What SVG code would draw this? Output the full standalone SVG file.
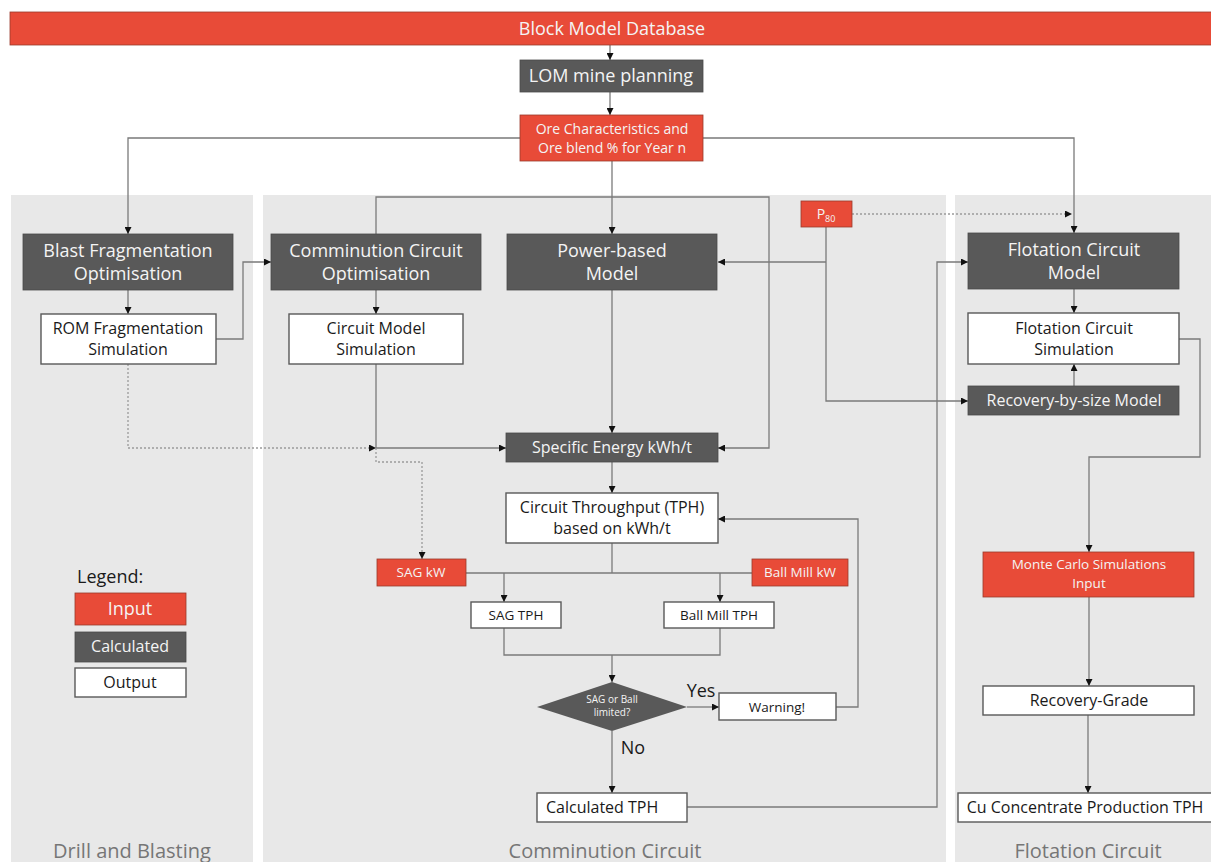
<svg xmlns="http://www.w3.org/2000/svg" width="1211" height="862" viewBox="0 0 1211 862">
<defs>
<style>
.red{fill:#E84B38;stroke:#9a3a2c;stroke-width:0.8}
.dark{fill:#595959;stroke:#4a4a4a;stroke-width:0.8}
.out{fill:#ffffff;stroke:#595959;stroke-width:1.4}
.panel{fill:#E8E8E8}
text{font-family:"Open Sans","Liberation Sans",sans-serif;text-anchor:middle}
.tw{fill:#f4f4f4}
.tb{fill:#1a1a1a}
.tg{fill:#767676;font-size:20px}
.f17{font-size:18px}
.f15{font-size:16px}
.f13{font-size:13.5px}
.ln{fill:none;stroke:#7a7a7a;stroke-width:1.3}
.dt{fill:none;stroke:#9a9a9a;stroke-width:1.3;stroke-dasharray:2 2}
</style>
<marker id="ah" viewBox="0 0 10 10" refX="10" refY="5" markerWidth="7" markerHeight="7" markerUnits="userSpaceOnUse" orient="auto">
<path d="M0,0 L10,5 L0,10 z" fill="#111"/>
</marker>
</defs>
<rect width="1211" height="862" fill="#ffffff"/>
<g id="panels">
<rect class="panel" x="11" y="195" width="242" height="667"/>
<rect class="panel" x="263" y="195" width="683" height="667"/>
<rect class="panel" x="955" y="195" width="256" height="667"/>
<text class="tg" x="132" y="858">Drill and Blasting</text>
<text class="tg" x="605" y="858">Comminution Circuit</text>
<text class="tg" x="1088" y="858">Flotation Circuit</text>
</g>
<g id="connectors">
<path class="ln" d="M610,45 V60" marker-end="url(#ah)"/>
<path class="ln" d="M610,92 V115" marker-end="url(#ah)"/>
<path class="ln" d="M520,138 H128 V234" marker-end="url(#ah)"/>
<path class="ln" d="M703,138 H1074 V233" marker-end="url(#ah)"/>
<path class="ln" d="M612,161 V234" marker-end="url(#ah)"/>
<path class="ln" d="M376,234 V197 H769 V448 H718" marker-end="url(#ah)"/>
<path class="ln" d="M128,290 V314" marker-end="url(#ah)"/>
<path class="ln" d="M216,339 H243 V262 H271" marker-end="url(#ah)"/>
<path class="ln" d="M376,290 V314" marker-end="url(#ah)"/>
<path class="ln" d="M376,364 V448 H506" marker-end="url(#ah)"/>
<path class="dt" d="M128,364 V448 H376" marker-end="url(#ah)"/>
<path class="dt" d="M376,448 V462 H422 V559" marker-end="url(#ah)"/>
<path class="dt" d="M852,214 H1072" marker-end="url(#ah)"/>
<path class="ln" d="M826,227 V401 H968" marker-end="url(#ah)"/>
<path class="ln" d="M826,262 H718" marker-end="url(#ah)"/>
<path class="ln" d="M612,290 V433" marker-end="url(#ah)"/>
<path class="ln" d="M612,462 V493" marker-end="url(#ah)"/>
<path class="ln" d="M612,543 V573"/>
<path class="ln" d="M466,573 H752"/>
<path class="ln" d="M504,573 V602" marker-end="url(#ah)"/>
<path class="ln" d="M720,573 V602" marker-end="url(#ah)"/>
<path class="ln" d="M504,628 V655 H720 V628"/>
<path class="ln" d="M612,655 V682" marker-end="url(#ah)"/>
<path class="ln" d="M687,707 H719" marker-end="url(#ah)"/>
<path class="ln" d="M836,707 H858 V519 H718" marker-end="url(#ah)"/>
<path class="ln" d="M612,731 V793" marker-end="url(#ah)"/>
<path class="ln" d="M687,807 H937 V262 H968" marker-end="url(#ah)"/>
<path class="ln" d="M1074,289 V313" marker-end="url(#ah)"/>
<path class="ln" d="M1074,386 V364" marker-end="url(#ah)"/>
<path class="ln" d="M1179,339 H1200 V457 H1089 V552" marker-end="url(#ah)"/>
<path class="ln" d="M1089,597 V686" marker-end="url(#ah)"/>
<path class="ln" d="M1088,715 V793" marker-end="url(#ah)"/>
</g>
<g id="block-model-database">
<rect class="red" x="10" y="12" width="1210" height="33"/>
<text class="tw" x="612" y="35" style="font-size:18px">Block Model Database</text>
</g>
<g id="lom-mine-planning">
<rect class="dark" x="520" y="60" width="183" height="32"/>
<text class="tw f17" x="611" y="82">LOM mine planning</text>
</g>
<g id="ore-characteristics">
<rect class="red" x="520" y="115" width="183" height="46"/>
<text class="tw" x="612" y="134" style="font-size:14px">Ore Characteristics and</text>
<text class="tw" x="612" y="153" style="font-size:14px">Ore blend % for Year n</text>
</g>
<g id="blast-fragmentation">
<rect class="dark" x="23" y="234" width="210" height="56"/>
<text class="tw f17" x="128" y="257">Blast Fragmentation</text>
<text class="tw f17" x="128" y="280">Optimisation</text>
</g>
<g id="rom-fragmentation">
<rect class="out" x="41" y="314" width="175" height="50"/>
<text class="tb f15" x="128" y="334">ROM Fragmentation</text>
<text class="tb f15" x="128" y="355">Simulation</text>
</g>
<g id="comminution-optimisation">
<rect class="dark" x="271" y="234" width="210" height="56"/>
<text class="tw f17" x="376" y="257">Comminution Circuit</text>
<text class="tw f17" x="376" y="280">Optimisation</text>
</g>
<g id="circuit-model-simulation">
<rect class="out" x="289" y="314" width="174" height="50"/>
<text class="tb f15" x="376" y="334">Circuit Model</text>
<text class="tb f15" x="376" y="355">Simulation</text>
</g>
<g id="power-based-model">
<rect class="dark" x="507" y="234" width="210" height="56"/>
<text class="tw f17" x="612" y="257">Power-based</text>
<text class="tw f17" x="612" y="280">Model</text>
</g>
<g id="p80">
<rect class="red" x="801" y="201" width="51" height="26"/>
<text class="tw" x="826" y="219" style="font-size:14px">P<tspan style="font-size:9px" dy="3">80</tspan></text>
</g>
<g id="specific-energy">
<rect class="dark" x="506" y="433" width="212" height="29"/>
<text class="tw f15" x="612" y="453">Specific Energy kWh/t</text>
</g>
<g id="circuit-throughput">
<rect class="out" x="506" y="493" width="212" height="50"/>
<text class="tb f15" x="612" y="513">Circuit Throughput  (TPH)</text>
<text class="tb f15" x="612" y="534">based on kWh/t</text>
</g>
<g id="sag-kw">
<rect class="red" x="377" y="559" width="89" height="27"/>
<text class="tw f13" x="421" y="577">SAG kW</text>
</g>
<g id="ball-mill-kw">
<rect class="red" x="752" y="559" width="96" height="27"/>
<text class="tw f13" x="800" y="577">Ball Mill kW</text>
</g>
<g id="sag-tph">
<rect class="out" x="471" y="602" width="90" height="26"/>
<text class="tb f13" x="516" y="620">SAG TPH</text>
</g>
<g id="ball-mill-tph">
<rect class="out" x="664" y="602" width="110" height="26"/>
<text class="tb f13" x="719" y="620">Ball Mill TPH</text>
</g>
<g id="decision">
<polygon points="612,682 687,707 612,731 537,707" fill="#595959"/>
<text class="tw" x="612" y="703" style="font-size:10px">SAG or Ball</text>
<text class="tw" x="612" y="716" style="font-size:10px">limited?</text>
<text class="tb f17" x="701" y="697">Yes</text>
<text class="tb f17" x="633" y="754">No</text>
</g>
<g id="warning">
<rect class="out" x="719" y="693" width="117" height="27"/>
<text class="tb f13" x="777" y="712">Warning!</text>
</g>
<g id="calculated-tph">
<rect class="out" x="537" y="793" width="150" height="29"/>
<text class="tb f15" x="546" y="813" style="text-anchor:start">Calculated TPH</text>
</g>
<g id="flotation-model">
<rect class="dark" x="968" y="233" width="211" height="56"/>
<text class="tw f17" x="1074" y="256">Flotation Circuit</text>
<text class="tw f17" x="1074" y="279">Model</text>
</g>
<g id="flotation-simulation">
<rect class="out" x="968" y="313" width="211" height="51"/>
<text class="tb f15" x="1074" y="334">Flotation Circuit</text>
<text class="tb f15" x="1074" y="355">Simulation</text>
</g>
<g id="recovery-by-size">
<rect class="dark" x="968" y="386" width="211" height="29"/>
<text class="tw f15" x="1074" y="406">Recovery-by-size  Model</text>
</g>
<g id="monte-carlo">
<rect class="red" x="983" y="552" width="211" height="45"/>
<text class="tw f13" x="1089" y="569">Monte Carlo Simulations</text>
<text class="tw f13" x="1089" y="588">Input</text>
</g>
<g id="recovery-grade">
<rect class="out" x="983" y="686" width="211" height="29"/>
<text class="tb f15" x="1089" y="706">Recovery-Grade</text>
</g>
<g id="cu-concentrate">
<rect class="out" x="958" y="793" width="256" height="29"/>
<text class="tb f15" x="1085" y="813">Cu Concentrate Production TPH</text>
</g>
<g id="legend">
<text class="tb f17" x="77" y="583" style="text-anchor:start">Legend:</text>
<rect class="red" x="75" y="593" width="111" height="32"/>
<text class="tw f17" x="130" y="615">Input</text>
<rect class="dark" x="75" y="632" width="111" height="30"/>
<text class="tw f15" x="130" y="652">Calculated</text>
<rect class="out" x="75" y="668" width="111" height="29"/>
<text class="tb f15" x="130" y="688">Output</text>
</g>
</svg>
